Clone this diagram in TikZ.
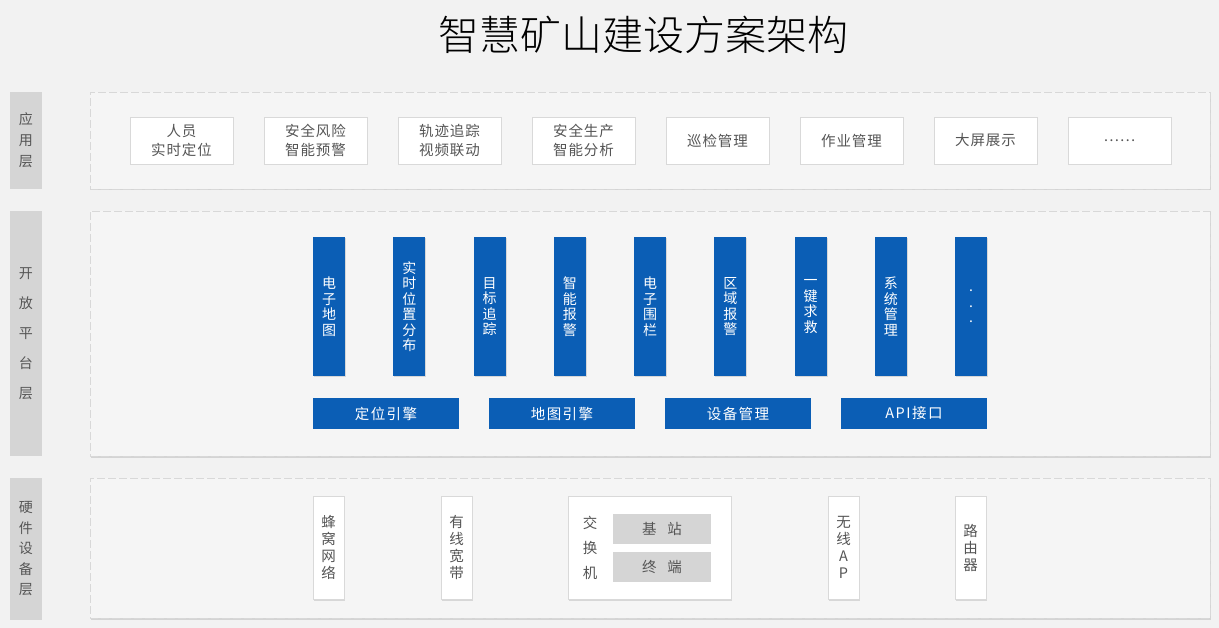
\documentclass[tikz,border=0pt]{standalone}
\usepackage{fontspec}
\setmainfont{Noto Sans CJK SC}
\newfontfamily\titlefont{Noto Sans CJK SC Light}
\usetikzlibrary{positioning,shadows}
\definecolor{pagebg}{HTML}{F2F2F2}
\definecolor{panelbg}{HTML}{F5F5F5}
\definecolor{dashgray}{HTML}{D8D8D8}
\definecolor{tabgray}{HTML}{D5D5D5}
\definecolor{txtgray}{HTML}{555555}
\definecolor{blockblue}{HTML}{0B5EB5}
\definecolor{boxline}{HTML}{D9D9D9}
\tikzset{
  softshadow/.style={drop shadow={shadow xshift=1pt,shadow yshift=-1.5pt,
    opacity=0.12,fill=black}},
  layertab/.style={fill=tabgray,minimum width=32pt,inner sep=0pt,
    text=txtgray,align=center},
  panel/.style={draw=dashgray,fill=panelbg,dash pattern=on 8pt off 3pt,
    line width=0.9pt,minimum width=1120pt,inner sep=0pt,softshadow},
  appbox/.style={draw=boxline,fill=white,minimum width=103pt,
    minimum height=47pt,inner sep=0pt,align=center,text=txtgray,
    font=\fontsize{14.5}{19}\selectfont\addfontfeature{LetterSpace=6}},
  funcbar/.style={fill=blockblue,minimum width=32pt,minimum height=139pt,
    inner sep=0pt,align=center,text=white,
    font=\fontsize{14}{15.5}\selectfont,softshadow},
  enginebar/.style={fill=blockblue,minimum width=146pt,minimum height=31pt,
    inner sep=0pt,text=white,
    font=\fontsize{14.5}{16}\selectfont\addfontfeature{LetterSpace=10}},
  hwbox/.style={draw=boxline,fill=white,minimum width=31pt,
    minimum height=103pt,inner sep=0pt,align=center,text=txtgray,
    font=\fontsize{14.5}{17}\selectfont,softshadow},
  subbox/.style={fill=tabgray,minimum width=98pt,minimum height=30pt,
    inner sep=0pt,text=txtgray,font=\fontsize{14.5}{17}\selectfont},
}

\begin{document}
\begin{tikzpicture}[x=1pt,y=-1pt]
  \fill[pagebg] (0,0) rectangle (1219,628);
  \useasboundingbox (0,0) rectangle (1219,628);

  % title
  \node[text=black,font=\titlefont\fontsize{41}{46}\selectfont] (title)
    at (643,35) {智慧矿山建设方案架构};

  % layer tabs
  \node[layertab,minimum height=97pt,font=\fontsize{14}{21}\selectfont]
    (tabapp) at (26,140.5) {应\\用\\层};
  \node[layertab,minimum height=245pt,font=\fontsize{14}{30}\selectfont]
    (tabplat) at (26,333.5) {开\\放\\平\\台\\层};
  \node[layertab,minimum height=142pt,font=\fontsize{14}{20.5}\selectfont]
    (tabhw) at (26,549) {硬\\件\\设\\备\\层};

  % dashed panels
  \node[panel,minimum height=97pt] (panelapp) at (650,140.5) {};
  \node[panel,minimum height=245pt] (panelplat) at (650,333.5) {};
  \node[panel,minimum height=140pt] (panelhw) at (650,548) {};

  % application layer
  \foreach \i/\t in {0/{人员\\实时定位},1/{安全风险\\智能预警},
      2/{轨迹追踪\\视频联动},3/{安全生产\\智能分析},4/{巡检管理},
      5/{作业管理},6/{大屏展示},7/{……}} {
    \node[appbox] (app\i) at (181.5+134*\i,140.5) {\t};
  }

  % platform layer
  \foreach \i/\t in {0/{电\\子\\地\\图},1/{实\\时\\位\\置\\分\\布},
      2/{目\\标\\追\\踪},3/{智\\能\\报\\警},4/{电\\子\\围\\栏},
      5/{区\\域\\报\\警},6/{一\\键\\求\\救},7/{系\\统\\管\\理},
      8/{.\\.\\.}} {
    \node[funcbar] (func\i) at (329+80.25*\i,306.5) {\t};
  }
  \foreach \i/\t in {0/定位引擎,1/地图引擎,2/设备管理,3/API接口} {
    \node[enginebar] (eng\i) at (386+176*\i,413.5) {\t};
  }

  % hardware layer
  \node[hwbox] (cell) at (328.5,547.5) {蜂\\窝\\网\\络};
  \node[hwbox] (wired) at (456.5,547.5) {有\\线\\宽\\带};
  \node[hwbox,minimum width=163pt] (switch) at (649.5,547.5) {};
  \node[text=txtgray,align=center,inner sep=0pt,
    font=\fontsize{14.5}{25}\selectfont] (switchlbl) at (590,548)
    {交\\换\\机};
  \node[subbox] (station) at (662,529) {基\hspace{0.75em}站};
  \node[subbox] (terminal) at (662,567) {终\hspace{0.75em}端};
  \node[hwbox] (wap) at (843.5,547.5) {无\\线\\A\\P};
  \node[hwbox] (router) at (970.5,547.5) {路\\由\\器};
\end{tikzpicture}
\end{document}
